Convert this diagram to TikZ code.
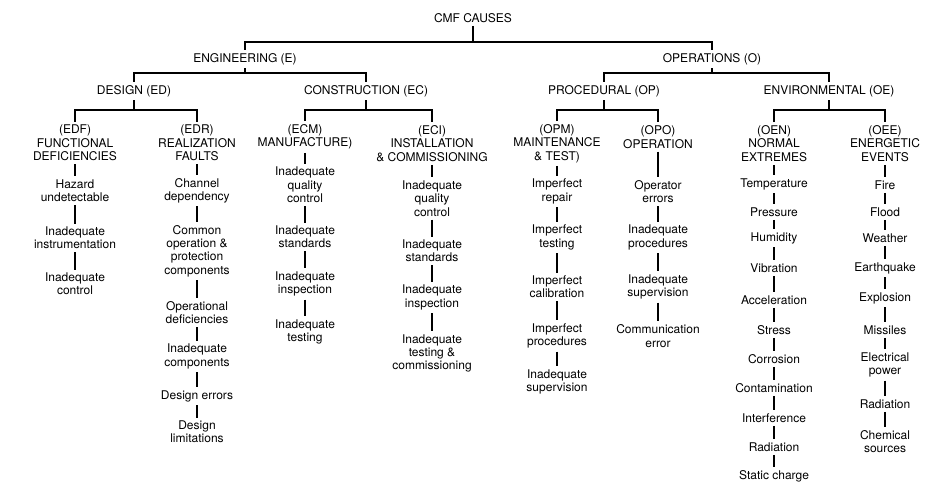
\documentclass[tikz,border=0pt]{standalone}
\usepackage{fontspec}
\setmainfont{TeX Gyre Heros}

\begin{document}
\begin{tikzpicture}[x=0.75pt,y=-0.75pt,line width=1pt,
  every node/.style={font=\fontsize{9}{10}\selectfont,align=center,inner sep=2pt}]
\useasboundingbox (0,0) rectangle (938,485);
\node (root) at (473,18) {CMF CAUSES};
\node (eng) at (245,59) {ENGINEERING (E)};
\node (ops) at (712,59) {OPERATIONS (O)};
\node (dsg) at (134,91) {DESIGN (ED)};
\node (con) at (366,91) {CONSTRUCTION (EC)};
\node (prc) at (604,91) {PROCEDURAL (OP)};
\node (env) at (829,91) {ENVIRONMENTAL (OE)};
\coordinate (rootbar) at (473,42);
\coordinate (engbar) at (245,73);
\coordinate (opsbar) at (712,73);
\coordinate (dsgbar) at (134,110);
\coordinate (conbar) at (366,110);
\coordinate (prcbar) at (604,110);
\coordinate (envbar) at (829,110);
\draw (root) -- (rootbar); \draw (eng) |- (rootbar) -| (ops);
\draw (eng) -- (engbar); \draw (dsg) |- (engbar) -| (con);
\draw (ops) -- (opsbar); \draw (prc) |- (opsbar) -| (env);
\node (edf) at (75,143) {(EDF)\\FUNCTIONAL\\DEFICIENCIES};
\node (edr) at (197,143) {(EDR)\\REALIZATION\\FAULTS};
\node (ecm) at (305,137) {(ECM)\\MANUFACTURE)};
\node (eci) at (432,143.5) {(ECI)\\INSTALLATION\\\& COMMISSIONING};
\node (opm) at (557,143.5) {(OPM)\\MAINTENANCE\\\& TEST)};
\node (opo) at (658,137) {(OPO)\\OPERATION};
\node (oen) at (774,143.5) {(OEN)\\NORMAL\\EXTREMES};
\node (oee) at (885,143.5) {(OEE)\\ENERGETIC\\EVENTS};
\draw (dsg) -- (dsgbar); \draw (edf) |- (dsgbar) -| (edr);
\draw (con) -- (conbar); \draw (ecm) |- (conbar) -| (eci);
\draw (prc) -- (prcbar); \draw (opm) |- (prcbar) -| (opo);
\draw (env) -- (envbar); \draw (oen) |- (envbar) -| (oee);
\node (edf1) at (75,190.5) {Hazard\\undetectable};
\node (edf2) at (75,238) {Inadequate\\instrumentation};
\node (edf3) at (75,284) {Inadequate\\control};
\draw (edf) -- (edf1) -- (edf2) -- (edf3);
\node (edr1) at (197,190.5) {Channel\\dependency};
\node (edr2) at (197,251) {Common\\operation \&\\protection\\components};
\node (edr3) at (197,312.5) {Operational\\deficiencies};
\node (edr4) at (197,356.5) {Inadequate\\components};
\node (edr5) at (197,396) {Design errors};
\node (edr6) at (197,432) {Design\\limitations};
\draw (edr) -- (edr1) -- (edr2) -- (edr3) -- (edr4) -- (edr5) -- (edr6);
\node (ecm1) at (305,185) {Inadequate\\quality\\control};
\node (ecm2) at (305,237) {Inadequate\\standards};
\node (ecm3) at (305,284) {Inadequate\\inspection};
\node (ecm4) at (305,332) {Inadequate\\testing};
\draw (ecm) -- (ecm1) -- (ecm2) -- (ecm3) -- (ecm4);
\node (eci1) at (432,198.5) {Inadequate\\quality\\control};
\node (eci2) at (432,251) {Inadequate\\standards};
\node (eci3) at (432,297.5) {Inadequate\\inspection};
\node (eci4) at (432,353.5) {Inadequate\\testing \&\\commissioning};
\draw (eci) -- (eci1) -- (eci2) -- (eci3) -- (eci4);
\node (opm1) at (557,191.5) {Imperfect\\repair};
\node (opm2) at (557,237.5) {Imperfect\\testing};
\node (opm3) at (557,287) {Imperfect\\calibration};
\node (opm4) at (557,336) {Imperfect\\procedures};
\node (opm5) at (557,382) {Inadequate\\supervision};
\draw (opm) -- (opm1) -- (opm2) -- (opm3) -- (opm4) -- (opm5);
\node (opo1) at (658,191.5) {Operator\\errors};
\node (opo2) at (658,237.5) {Inadequate\\procedures};
\node (opo3) at (658,287) {Inadequate\\supervision};
\node (opo4) at (658,336) {Communication\\error};
\draw (opo) -- (opo1) -- (opo2) -- (opo3) -- (opo4);
\node (oen1) at (774,184) {Temperature};
\node (oen2) at (774,212) {Pressure};
\node (oen3) at (774,238) {Humidity};
\node (oen4) at (774,268) {Vibration};
\node (oen5) at (774,300) {Acceleration};
\node (oen6) at (774,330) {Stress};
\node (oen7) at (774,359) {Corrosion};
\node (oen8) at (774,388) {Contamination};
\node (oen9) at (774,418) {Interference};
\node (oen10) at (774,447) {Radiation};
\node (oen11) at (774,476) {Static charge};
\draw (oen) -- (oen1) -- (oen2) -- (oen3) -- (oen4) -- (oen5) -- (oen6)
  -- (oen7) -- (oen8) -- (oen9) -- (oen10) -- (oen11);
\node (oee1) at (885,185) {Fire};
\node (oee2) at (885,212) {Flood};
\node (oee3) at (885,238) {Weather};
\node (oee4) at (885,268) {Earthquake};
\node (oee5) at (885,298) {Explosion};
\node (oee6) at (885,330) {Missiles};
\node (oee7) at (885,365) {Electrical\\power};
\node (oee8) at (885,404) {Radiation};
\node (oee9) at (885,441.5) {Chemical\\sources};
\draw (oee) -- (oee1) -- (oee2) -- (oee3) -- (oee4) -- (oee5) -- (oee6)
  -- (oee7) -- (oee8) -- (oee9);
\end{tikzpicture}
\end{document}
